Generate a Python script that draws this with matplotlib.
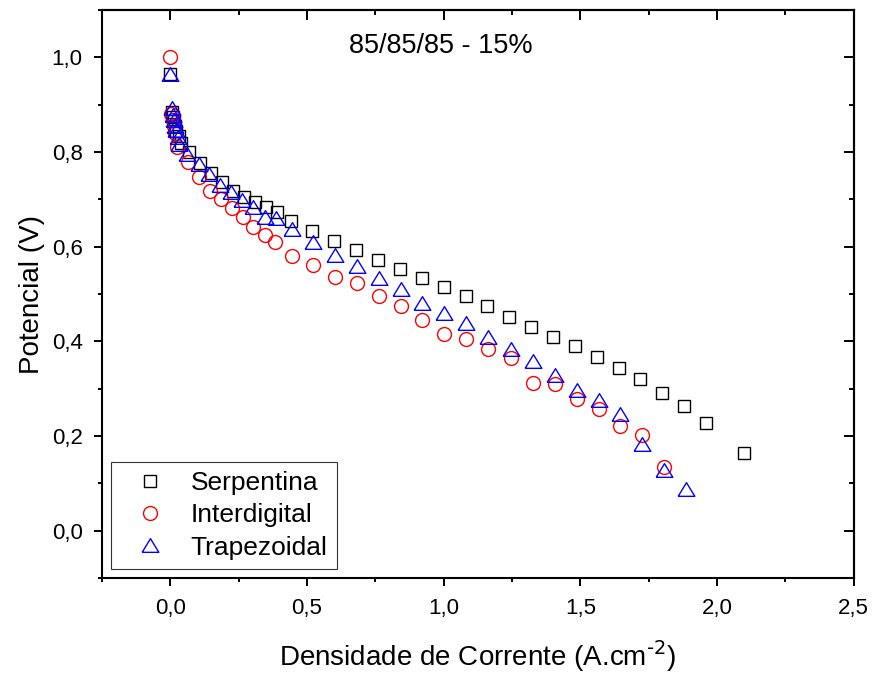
import matplotlib
matplotlib.use("Agg")
import matplotlib.pyplot as plt
from matplotlib.ticker import MultipleLocator, FuncFormatter, NullFormatter

plt.rcParams['font.family'] = ['Liberation Sans', 'DejaVu Sans']

# Serpentina (squares)
serp_x = [0.0, 0.005, 0.009, 0.013, 0.017, 0.022, 0.030, 0.040, 0.07, 0.11, 0.15, 0.19,
          0.23, 0.27, 0.31, 0.35, 0.39, 0.44, 0.52, 0.60, 0.68, 0.76, 0.84, 0.92,
          1.00, 1.08, 1.16, 1.24, 1.32, 1.40, 1.48, 1.56, 1.64, 1.72, 1.80, 1.88,
          1.96, 2.10]
serp_y = [0.966, 0.885, 0.875, 0.865, 0.855, 0.845, 0.835, 0.820, 0.800, 0.777, 0.755, 0.736,
          0.718, 0.705, 0.694, 0.684, 0.673, 0.655, 0.634, 0.612, 0.593, 0.572, 0.553, 0.533,
          0.514, 0.495, 0.474, 0.452, 0.431, 0.409, 0.390, 0.367, 0.343, 0.321, 0.291, 0.263,
          0.228, 0.164]

# Interdigital (circles)
inter_x = [0.0, 0.004, 0.008, 0.012, 0.016, 0.024, 0.063, 0.106, 0.146, 0.186, 0.225,
           0.265, 0.304, 0.345, 0.384, 0.444, 0.523, 0.604, 0.683, 0.764, 0.843, 0.921,
           1.002, 1.080, 1.161, 1.246, 1.327, 1.406, 1.487, 1.567, 1.646, 1.725, 1.805]
inter_y = [1.000, 0.880, 0.868, 0.855, 0.840, 0.810, 0.779, 0.747, 0.717, 0.701, 0.682,
           0.662, 0.641, 0.624, 0.610, 0.581, 0.562, 0.537, 0.524, 0.497, 0.474, 0.446,
           0.416, 0.405, 0.385, 0.365, 0.313, 0.310, 0.278, 0.257, 0.222, 0.203, 0.134]

# Trapezoidal (triangles)
trap_x = [0.0, 0.005, 0.008, 0.012, 0.016, 0.020, 0.027, 0.033, 0.060, 0.103, 0.142,
          0.183, 0.222, 0.263, 0.302, 0.345, 0.385, 0.444, 0.523, 0.604, 0.683, 0.764,
          0.843, 0.921, 1.002, 1.080, 1.161, 1.246, 1.327, 1.406, 1.487, 1.567, 1.646,
          1.725, 1.805, 1.888]
trap_y = [0.965, 0.893, 0.879, 0.867, 0.856, 0.846, 0.831, 0.817, 0.796, 0.775, 0.753,
          0.731, 0.716, 0.698, 0.684, 0.663, 0.660, 0.637, 0.611, 0.583, 0.559, 0.533,
          0.511, 0.481, 0.460, 0.439, 0.410, 0.385, 0.359, 0.330, 0.298, 0.277, 0.246,
          0.184, 0.129, 0.088]

tri_marker = [(-1, -0.82), (1, -0.82), (0, 0.82), (-1, -0.82)]

fig = plt.figure(figsize=(8.72, 6.73), dpi=100)
ax = fig.add_axes([0.117, 0.141, 0.862, 0.844])

ax.plot(serp_x, serp_y, ls='none', marker='s', ms=8.4, mfc='none', mec='black', mew=1.0,
        label='Serpentina')
ax.plot(inter_x, inter_y, ls='none', marker='o', ms=10, mfc='none', mec='#ff0000', mew=1.0,
        label='Interdigital')
ax.plot(trap_x, trap_y, ls='none', marker=tri_marker, ms=12, mfc='none', mec='#0000ff', mew=1.0,
        label='Trapezoidal')

ax.set_xlim(-0.25, 2.5)
ax.set_ylim(-0.1, 1.1)

comma = FuncFormatter(lambda v, p: f"{v:.1f}".replace('.', ','))
ax.xaxis.set_major_locator(MultipleLocator(0.5))
ax.xaxis.set_minor_locator(MultipleLocator(0.25))
ax.yaxis.set_major_locator(MultipleLocator(0.2))
ax.yaxis.set_minor_locator(MultipleLocator(0.1))
ax.xaxis.set_major_formatter(comma)
ax.yaxis.set_major_formatter(comma)
ax.tick_params(which='major', direction='out', length=6, width=1.4, labelsize=16, pad=8)
ax.tick_params(which='minor', direction='out', length=3, width=1.4)
for s in ax.spines.values():
    s.set_linewidth(1.5)

# mirrored inward ticks on top and right
top = ax.secondary_xaxis('top')
top.xaxis.set_major_locator(MultipleLocator(0.5))
top.xaxis.set_minor_locator(MultipleLocator(0.25))
top.xaxis.set_major_formatter(NullFormatter())
top.tick_params(which='major', direction='in', length=7, width=1.4)
top.tick_params(which='minor', direction='in', length=3.6, width=1.4)
top.spines['top'].set_linewidth(1.5)
right = ax.secondary_yaxis('right')
right.yaxis.set_major_locator(MultipleLocator(0.2))
right.yaxis.set_minor_locator(MultipleLocator(0.1))
right.yaxis.set_major_formatter(NullFormatter())
right.tick_params(which='major', direction='in', length=7, width=1.4)
right.tick_params(which='minor', direction='in', length=3.6, width=1.4)
right.spines['right'].set_linewidth(1.5)

ax.set_xlabel(r'Densidade de Corrente (A.cm$^{\text{-2}}$)', fontsize=20, labelpad=14)
ax.set_ylabel('Potencial (V)', fontsize=20, labelpad=5)

ax.text(0.451, 0.937, '85/85/85 - 15%', transform=ax.transAxes, ha='center', va='center',
        fontsize=19.5)

leg = ax.legend(loc='lower left', fontsize=19, frameon=True, fancybox=False, borderpad=0.35,
                labelspacing=0.31, handlelength=2.2, handletextpad=0.45, borderaxespad=0.35)
leg.get_frame().set_edgecolor('black')
leg.get_frame().set_linewidth(0.8)

fig.savefig('out.png', dpi=100)
